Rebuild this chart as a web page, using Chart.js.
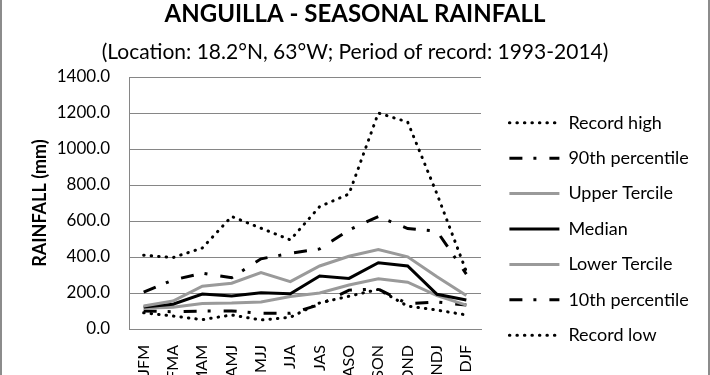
<!DOCTYPE html>
<html><head><meta charset="utf-8">
<script src="https://cdn.jsdelivr.net/npm/chart.js@4"></script>
<style>
html,body{margin:0;padding:0;background:#fff;overflow:hidden}
#wrap{position:relative;width:710px;height:375px;overflow:hidden}
#frame{position:absolute;left:0;top:-10px;width:706px;height:400px;border-left:2px solid #8c8c8c;border-right:2px solid #8c8c8c;pointer-events:none}
</style></head><body>
<div id="wrap"><canvas id="c" width="710" height="375"></canvas><div id="frame"></div></div>
<script>
const categories = ['JFM','FMA','MAM','AMJ','MJJ','JJA','JAS','ASO','SON','OND','NDJ','DJF'];
const recordHigh = [410, 397, 450, 625, 560, 495, 680, 750, 1200, 1150, 750, 320];
const pct90 = [205, 272, 310, 285, 390, 420, 445, 550, 625, 558, 543, 305];
const upperTercile = [128, 155, 238, 254, 314, 263, 350, 404, 442, 401, 290, 186];
const median = [122, 138, 194, 184, 202, 196, 294, 281, 368, 350, 193, 161];
const lowerTercile = [115, 121, 142, 144, 150, 180, 200, 244, 279, 260, 185, 133];
const pct10 = [100, 96, 100, 100, 88, 87, 135, 216, 222, 140, 150, 133];
const recordLow = [90, 72, 52, 78, 50, 65, 145, 182, 220, 127, 105, 78];
const yTicks = [0, 200, 400, 600, 800, 1000, 1200, 1400];
const titleText = 'ANGUILLA - SEASONAL RAINFALL';
const subtitleText = '(Location: 18.2\u00B0N, 63\u00B0W; Period of record: 1993-2014)';
const yTitle = 'RAINFALL (mm)';

const GRAY = '#9a9a9a';
const DOT = [0.5, 7];
const DASHDOT = [13, 11, 3, 13];
function ds(label, data, color, dash, cap) {
  return { label, data, borderColor: color, backgroundColor: color, borderWidth: 3,
    borderDash: dash, borderCapStyle: cap, pointRadius: 0, pointHoverRadius: 0,
    tension: 0, fill: false };
}
const titlePlugin = {
  id: 'titles',
  afterDraw(chart) {
    const ctx = chart.ctx;
    ctx.save();
    ctx.fillStyle = '#000';
    ctx.textAlign = 'center';
    ctx.textBaseline = 'alphabetic';
    ctx.font = 'bold 24px Lato';
    ctx.fillText(titleText, 355, 22);
    ctx.font = '21px Lato';
    ctx.fillText(subtitleText, 355, 59);
    ctx.restore();
  }
};
const LEGEND_W = 218;
const legendWidthPlugin = {
  id: 'legendWidth',
  beforeLayout(chart) {
    const lg = chart.legend;
    if (lg && !lg._fixedW) {
      const orig = lg.update.bind(lg);
      lg.update = (mw, mh, m) => { orig(LEGEND_W, mh, m); lg.width = LEGEND_W; };
      lg._fixedW = true;
    }
  }
};
new Chart(document.getElementById('c'), {
  type: 'line',
  data: {
    labels: categories,
    datasets: [
      ds('Record high', recordHigh, '#000', DOT, 'round'),
      ds('90th percentile', pct90, '#000', DASHDOT, 'butt'),
      ds('Upper Tercile', upperTercile, GRAY, [], 'butt'),
      ds('Median', median, '#000', [], 'butt'),
      ds('Lower Tercile', lowerTercile, GRAY, [], 'butt'),
      ds('10th percentile', pct10, '#000', DASHDOT, 'butt'),
      ds('Record low', recordLow, '#000', DOT, 'round')
    ]
  },
  options: {
    responsive: false,
    animation: false,
    devicePixelRatio: 1,
    layout: { padding: { top: 77, left: 0, right: 0, bottom: -6 } },
    plugins: {
      title: { display: false },
      tooltip: { enabled: false },
      legend: {
        position: 'right',
        align: 'center',
        labels: {
          usePointStyle: true,
          pointStyle: 'line',
          pointStyleWidth: 50,
          color: '#000',
          font: { family: 'Lato', size: 18 },
          padding: 17.4,
          generateLabels: (chart) => {
            const items = Chart.defaults.plugins.legend.labels.generateLabels(chart);
            items.forEach((it) => {
              const d = chart.data.datasets[it.datasetIndex];
              it.lineDash = d.borderDash;
              it.lineCap = d.borderCapStyle;
              it.strokeStyle = d.borderColor;
              it.fillStyle = d.borderColor;
              it.lineWidth = 3;
              it.pointStyle = 'line';
            });
            return items;
          }
        }
      }
    },
    scales: {
      x: {
        offset: true,
        grid: { display: false, drawTicks: false },
        border: { display: true, color: '#868686', width: 1 },
        ticks: { color: '#000', font: { family: 'Lato', size: 16 }, minRotation: 90, maxRotation: 90, autoSkip: false, padding: 16 },
        afterFit: (s) => { s.height = 52; }
      },
      y: {
        min: 0, max: 1400,
        afterBuildTicks: (s) => { s.ticks = yTicks.map(v => ({ value: v })); },
        grid: { color: '#868686', drawTicks: false, lineWidth: 1 },
        border: { display: true, color: '#868686', width: 1 },
        ticks: { color: '#000', font: { family: 'Lato', size: 17 }, padding: 19, callback: (v) => Number(v).toFixed(1) },
        title: { display: true, text: yTitle, color: '#000', font: { family: 'Lato', size: 18, weight: 'bold' }, padding: { top: 29, bottom: 0 } },
        afterFit: (s) => { s.width = 129; }
      },
      gap: {
        position: 'right', min: 0, max: 1400, display: true,
        grid: { display: false, drawTicks: false },
        border: { display: false },
        ticks: { display: false },
        afterFit: (s) => { s.width = 11; }
      }
    }
  },
  plugins: [titlePlugin, legendWidthPlugin]
});
</script>
</body></html>
